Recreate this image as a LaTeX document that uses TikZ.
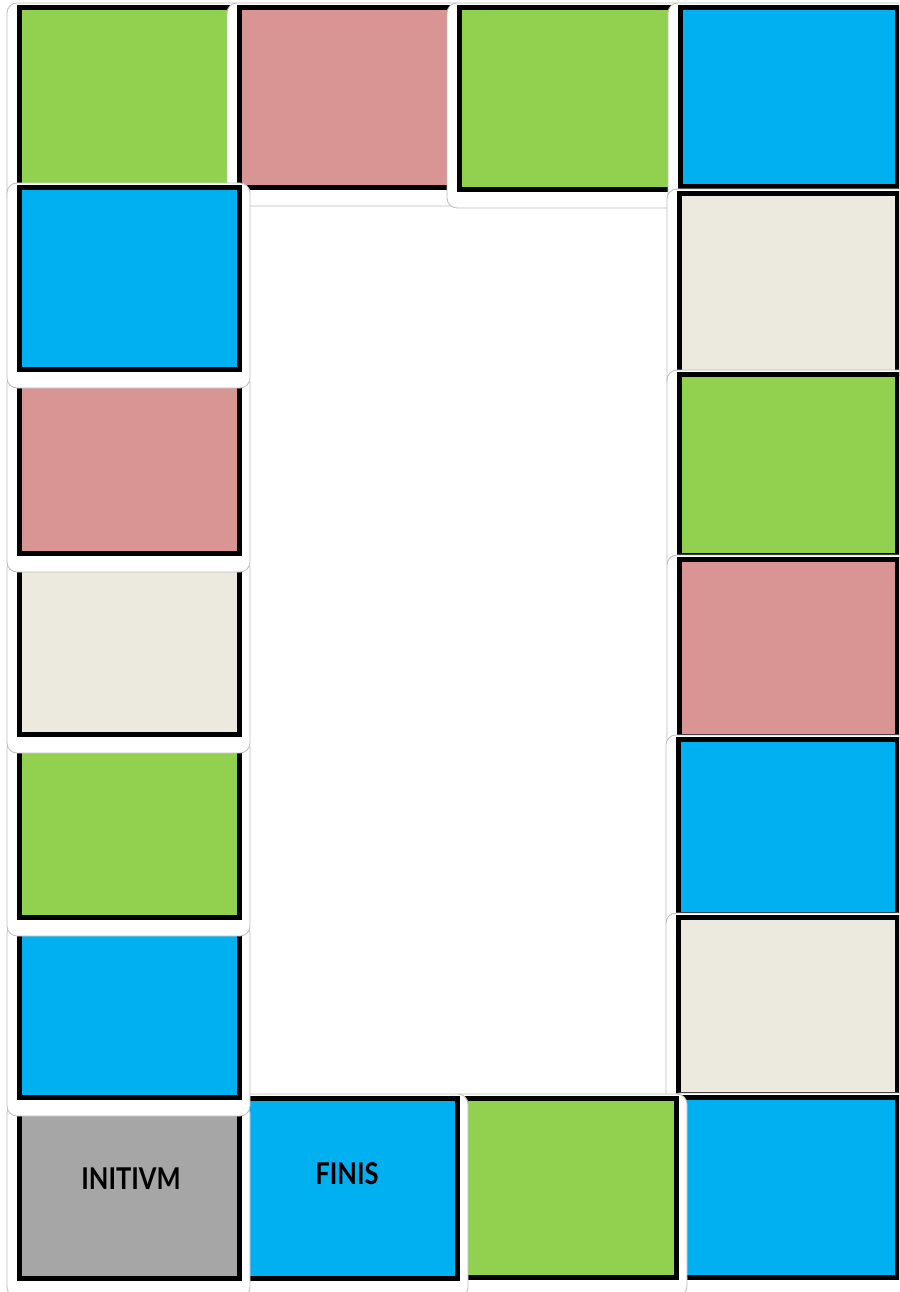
\documentclass[tikz,border=0pt]{standalone}
\usepackage{fontspec}
\setsansfont{Lato}
\definecolor{tgreen}{HTML}{92D050}
\definecolor{tpink}{HTML}{D99594}
\definecolor{tblue}{HTML}{00B0F0}
\definecolor{tbeige}{HTML}{ECE9DF}
\definecolor{tgray}{HTML}{A6A6A6}
\definecolor{cardline}{HTML}{BDBDBD}
\tikzset{
  card/.style={fill=white,draw=cardline,line width=0.8pt,rounded corners=10pt},
  face/.style={draw=black,line width=5pt},
  lbl/.style={font=\sffamily\bfseries\fontsize{30}{31}\selectfont,inner sep=0pt}
}
\newcommand{\boardtile}[5]{%
  \draw[card] ({#1-10},{#2-2}) rectangle ({#3+8},{#4+16});
  \draw[face,fill=#5] ({#1+2.5},{#2+2.5}) rectangle ({#3-2.5},{#4-2.5});
}
\begin{document}
\begin{tikzpicture}[x=1pt,y=-1pt]
\useasboundingbox (0,0) rectangle (899,1292);
\clip (0,0) rectangle (899,1292);
% top row
\boardtile{17}{5}{238}{190}{tgreen}
\boardtile{237}{5}{458}{190}{tpink}
\boardtile{457}{5}{678}{192}{tgreen}
\boardtile{678}{5}{900}{189}{tblue}
% right column
\boardtile{677}{191}{900}{376}{tbeige}
\boardtile{677}{372}{900}{558}{tgreen}
\boardtile{677}{557}{900}{739}{tpink}
\boardtile{676}{737}{900}{917}{tblue}
\boardtile{676}{915}{900}{1097}{tbeige}
% bottom row
\boardtile{680}{1095}{900}{1280}{tblue}
\boardtile{458}{1096}{679}{1280}{tgreen}
\boardtile{245}{1096}{460}{1281}{tblue}
\boardtile{17}{1105}{242}{1281}{tgray}
% left column
\boardtile{17}{925}{242}{1100}{tblue}
\boardtile{17}{740}{242}{920}{tgreen}
\boardtile{17}{560}{242}{737}{tbeige}
\boardtile{17}{375}{242}{556}{tpink}
\boardtile{17}{185}{242}{372}{tblue}
% labels
\node[lbl] (initium) at (131,1179) {\scalebox{0.85}[1]{INITIVM}};
\node[lbl] (finis) at (347,1174) {\scalebox{0.85}[1]{FINIS}};
\end{tikzpicture}
\end{document}
